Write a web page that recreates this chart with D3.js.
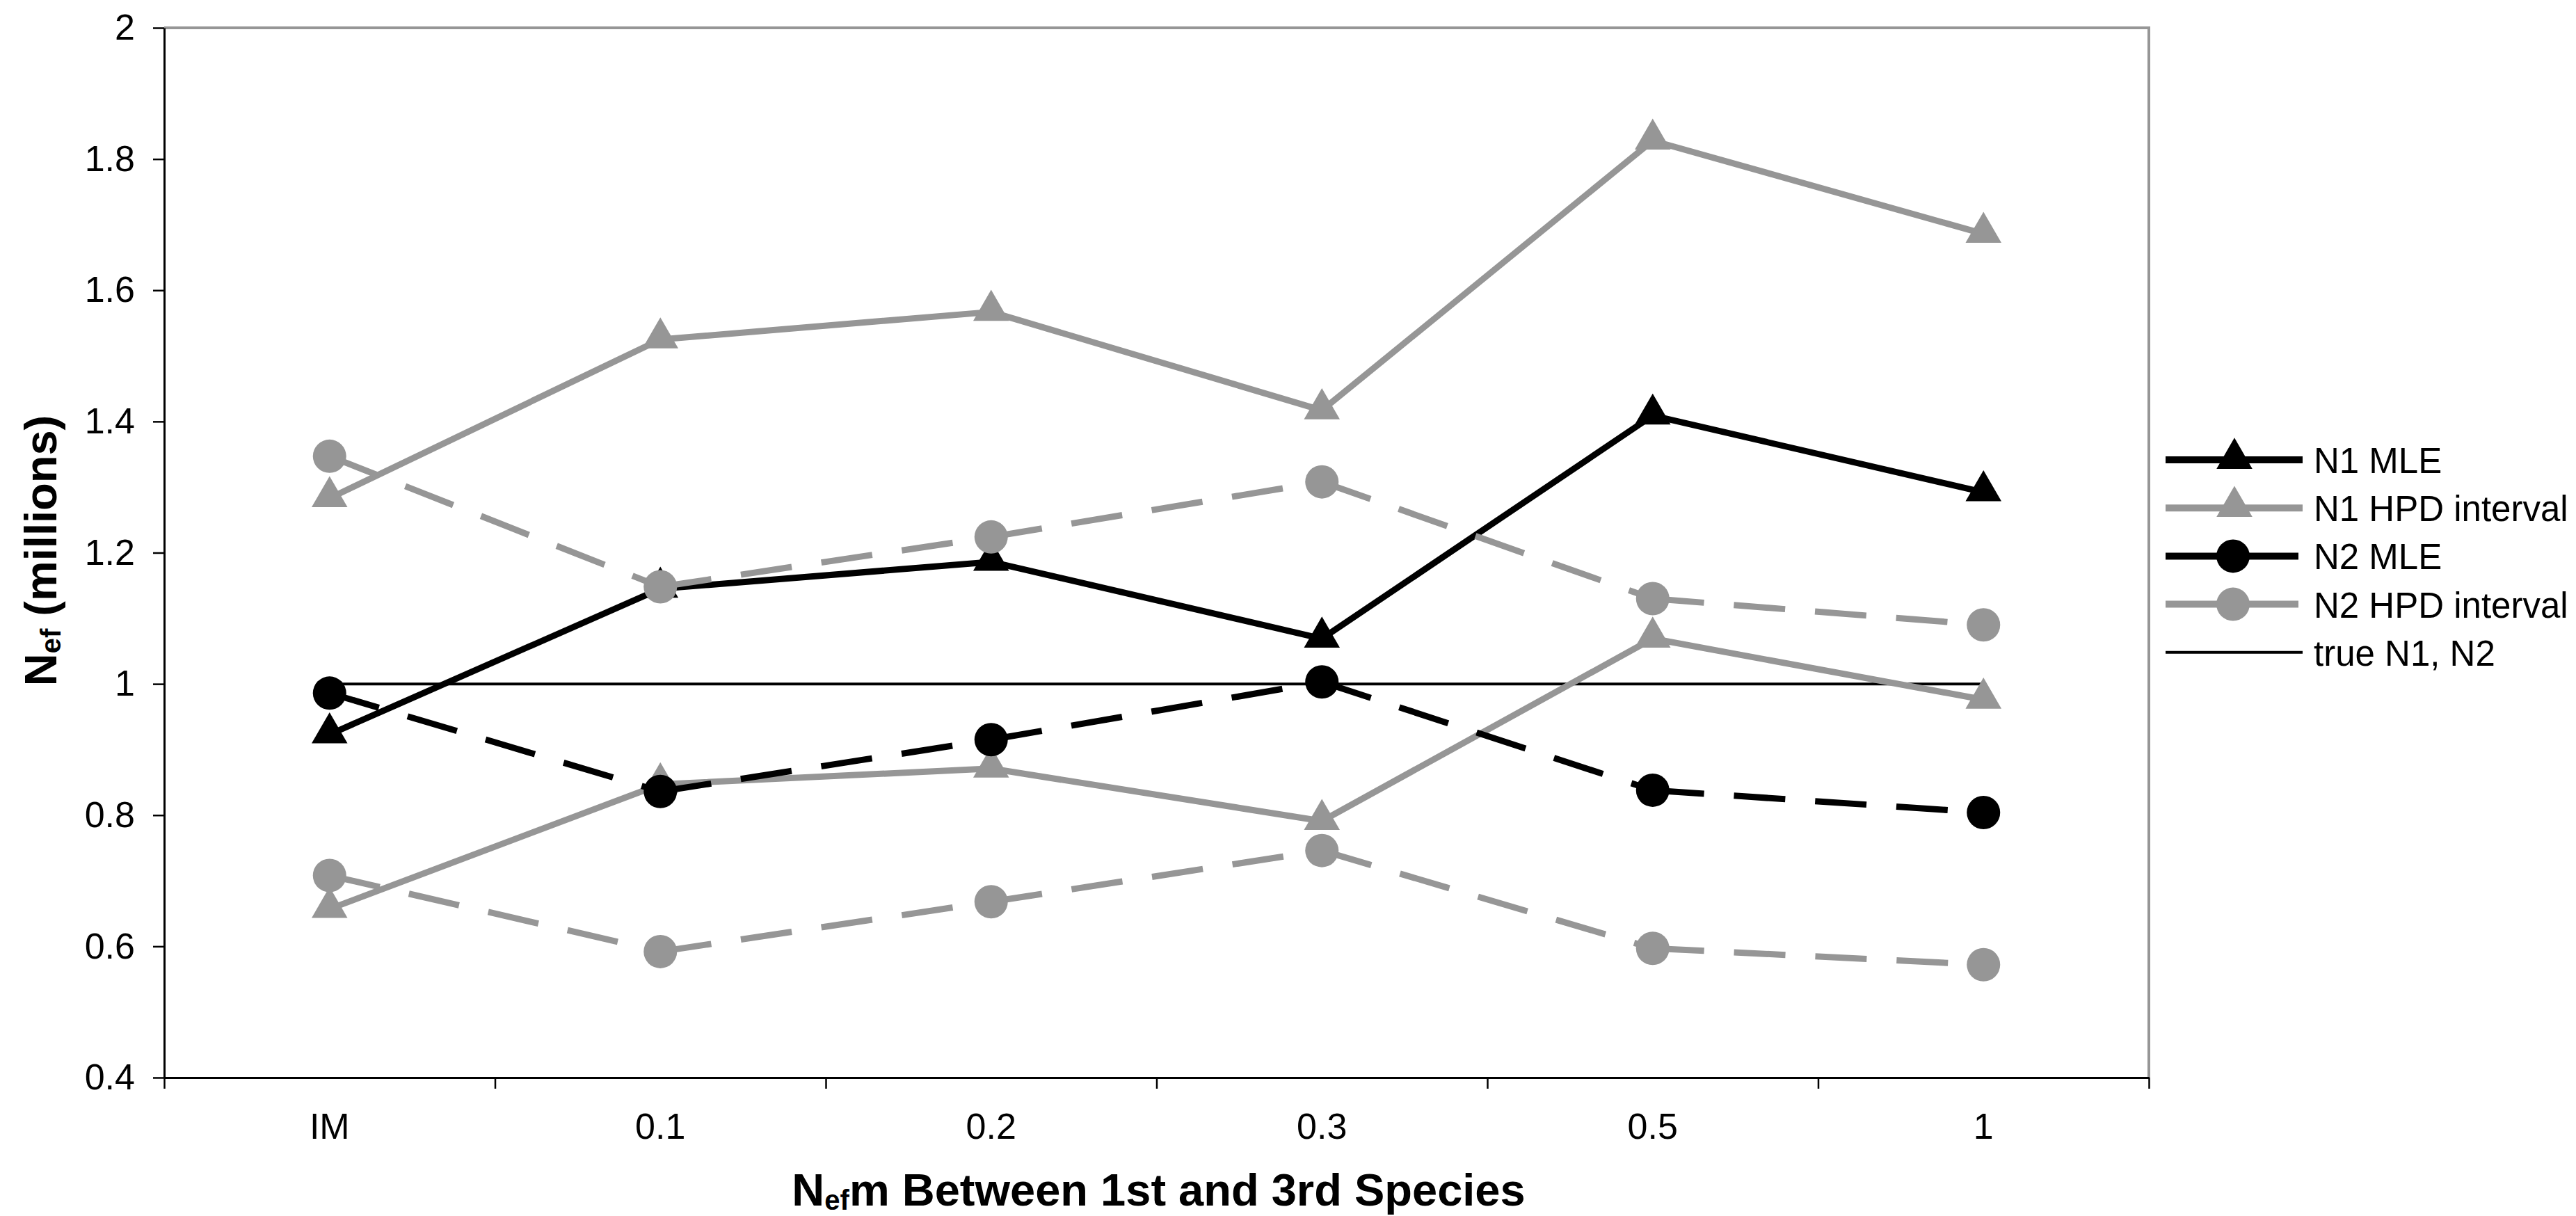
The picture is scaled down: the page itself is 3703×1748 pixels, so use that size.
<!DOCTYPE html>
<html>
<head>
<meta charset="utf-8">
<script src="https://cdn.jsdelivr.net/npm/d3@7"></script>
<style>
  html, body { margin: 0; padding: 0; background: #fff; }
  svg { display: block; font-family: "Liberation Sans", Arial, sans-serif; }
</style>
</head>
<body>
<svg id="chart" width="3703" height="1748"></svg>
<script>
const categories = ["IM", "0.1", "0.2", "0.3", "0.5", "1"];
const n1Mle   = [0.923, 1.145, 1.186, 1.069, 1.409, 1.292];
const n1HpdHi = [1.283, 1.525, 1.567, 1.417, 1.828, 1.686];
const n1HpdLo = [0.657, 0.847, 0.871, 0.791, 1.069, 0.976];
const n2Mle   = [0.986, 0.836, 0.915, 1.003, 0.838, 0.804];
const n2HpdHi = [1.347, 1.148, 1.224, 1.308, 1.130, 1.090];
const n2HpdLo = [0.708, 0.592, 0.668, 0.746, 0.597, 0.572];
const trueN   = [1, 1, 1, 1, 1, 1];
const yTicks  = [0.4, 0.6, 0.8, 1, 1.2, 1.4, 1.6, 1.8, 2];
const legendLabels = ["N1 MLE", "N1 HPD interval", "N2 MLE", "N2 HPD interval", "true N1, N2"];

const BLACK = "#000", GREY = "#969696";
const W = 3703, H = 1748;
const plot = { left: 236, right: 3089, top: 40, bottom: 1549 };

const svg = d3.select("#chart");
svg.append("rect").attr("width", W).attr("height", H).attr("fill", "#fff");

const x = d3.scaleBand().domain(categories).range([plot.left, plot.right]).padding(0);
const xEdge = d3.scaleLinear().domain([0, categories.length]).range([plot.left, plot.right]);
const y = d3.scaleLinear().domain([0.4, 2]).range([plot.bottom, plot.top]);
const cx = c => x(c) + x.bandwidth() / 2;

// grey frame on top and right
svg.append("path")
  .attr("d", `M${plot.left},${plot.top}H${plot.right}V${plot.bottom}`)
  .attr("fill", "none").attr("stroke", GREY).attr("stroke-width", 4);

// series: style only, values come from the arrays above
const series = [
  { values: trueN,   color: BLACK, width: 4, dashed: false, marker: null },
  { values: n1Mle,   color: BLACK, width: 9, dashed: false, marker: "tri" },
  { values: n1HpdHi, color: GREY,  width: 9, dashed: false, marker: "tri" },
  { values: n1HpdLo, color: GREY,  width: 9, dashed: false, marker: "tri" },
  { values: n2Mle,   color: BLACK, width: 9, dashed: true,  marker: "dot" },
  { values: n2HpdHi, color: GREY,  width: 9, dashed: true,  marker: "dot" },
  { values: n2HpdLo, color: GREY,  width: 9, dashed: true,  marker: "dot" }
];

const line = d3.line().x(d => cx(d.c)).y(d => y(d.v));
const triangle = d3.symbol().type(d3.symbolTriangle).size(1150);
const DASH = "74,43";

const g = svg.append("g");
series.forEach(s => {
  const pts = s.values.map((v, i) => ({ c: categories[i], v }));
  if (s.dashed) {
    // Excel restarts the dash pattern on each segment
    d3.pairs(pts).forEach(p => {
      g.append("path").attr("d", line(p))
        .attr("fill", "none").attr("stroke", s.color).attr("stroke-width", s.width)
        .attr("stroke-dasharray", DASH);
    });
  } else {
    g.append("path").attr("d", line(pts))
      .attr("fill", "none").attr("stroke", s.color).attr("stroke-width", s.width)
      .attr("stroke-linejoin", "round");
  }
  if (s.marker === "tri") {
    g.selectAll(null).data(pts).enter().append("path")
      .attr("d", triangle)
      .attr("transform", d => `translate(${cx(d.c)},${y(d.v) - 2})`)
      .attr("fill", s.color);
  } else if (s.marker === "dot") {
    g.selectAll(null).data(pts).enter().append("circle")
      .attr("cx", d => cx(d.c)).attr("cy", d => y(d.v)).attr("r", 24)
      .attr("fill", s.color);
  }
});

// y axis
const yAxis = svg.append("g").attr("transform", `translate(${plot.left},0)`)
  .call(d3.axisLeft(y).tickValues(yTicks).tickFormat(d => String(d))
    .tickSize(16).tickSizeOuter(0).tickPadding(26));
yAxis.select(".domain").attr("stroke", BLACK).attr("stroke-width", 3);
yAxis.selectAll(".tick line").attr("stroke", BLACK).attr("stroke-width", 2.5);
yAxis.selectAll("text").attr("font-size", 52).attr("fill", BLACK)
  .attr("font-family", "'Liberation Sans', Arial, sans-serif");

// x axis: labels at category centres, ticks on category edges
const xAxis = svg.append("g").attr("transform", `translate(0,${plot.bottom})`)
  .call(d3.axisBottom(x).tickSize(0).tickSizeOuter(0).tickPadding(51));
xAxis.select(".domain").attr("stroke", BLACK).attr("stroke-width", 3);
xAxis.selectAll("text").attr("font-size", 52).attr("fill", BLACK)
  .attr("font-family", "'Liberation Sans', Arial, sans-serif");

const xEdges = svg.append("g").attr("transform", `translate(0,${plot.bottom})`)
  .call(d3.axisBottom(xEdge).tickValues(d3.range(categories.length + 1))
    .tickFormat("").tickSize(16).tickSizeOuter(0));
xEdges.select(".domain").remove();
xEdges.selectAll(".tick line").attr("stroke", BLACK).attr("stroke-width", 2.5);

// axis titles
const xt = svg.append("text")
  .attr("x", (plot.left + plot.right) / 2 + 3).attr("y", 1733)
  .attr("text-anchor", "middle").attr("font-size", 65).attr("font-weight", "bold");
xt.append("tspan").text("N");
xt.append("tspan").attr("font-size", 40).attr("dy", 6).text("ef");
xt.append("tspan").attr("dy", -6).text("m Between 1st and 3rd Species");

const yt = svg.append("text")
  .attr("transform", `translate(81,${(plot.top + plot.bottom) / 2 - 3}) rotate(-90)`)
  .attr("text-anchor", "middle").attr("font-size", 65).attr("font-weight", "bold");
yt.append("tspan").text("N");
yt.append("tspan").attr("font-size", 40).attr("dy", 6).text("ef");
yt.append("tspan").attr("dy", -6).text(" (millions)");

// legend
const legendStyle = [series[1], series[2], series[4], series[5], series[0]];
const lg = svg.append("g").attr("transform", "translate(3113,661)");
legendStyle.forEach((s, i) => {
  const row = lg.append("g").attr("transform", `translate(0,${i * 69.2})`);
  row.append("line")
    .attr("x1", 0).attr("x2", s.dashed ? 191 : 197).attr("y1", 0).attr("y2", 0)
    .attr("stroke", s.color).attr("stroke-width", s.marker ? 10 : 4)
    .attr("stroke-dasharray", s.dashed ? DASH : null);
  if (s.marker === "tri") {
    row.append("path").attr("d", triangle).attr("transform", "translate(99,-2)").attr("fill", s.color);
  } else if (s.marker === "dot") {
    row.append("circle").attr("cx", 97).attr("cy", 0).attr("r", 24).attr("fill", s.color);
  }
  row.append("text").attr("x", 213).attr("y", 19)
    .attr("font-size", 51).attr("fill", BLACK).text(legendLabels[i]);
});
</script>
</body>
</html>
